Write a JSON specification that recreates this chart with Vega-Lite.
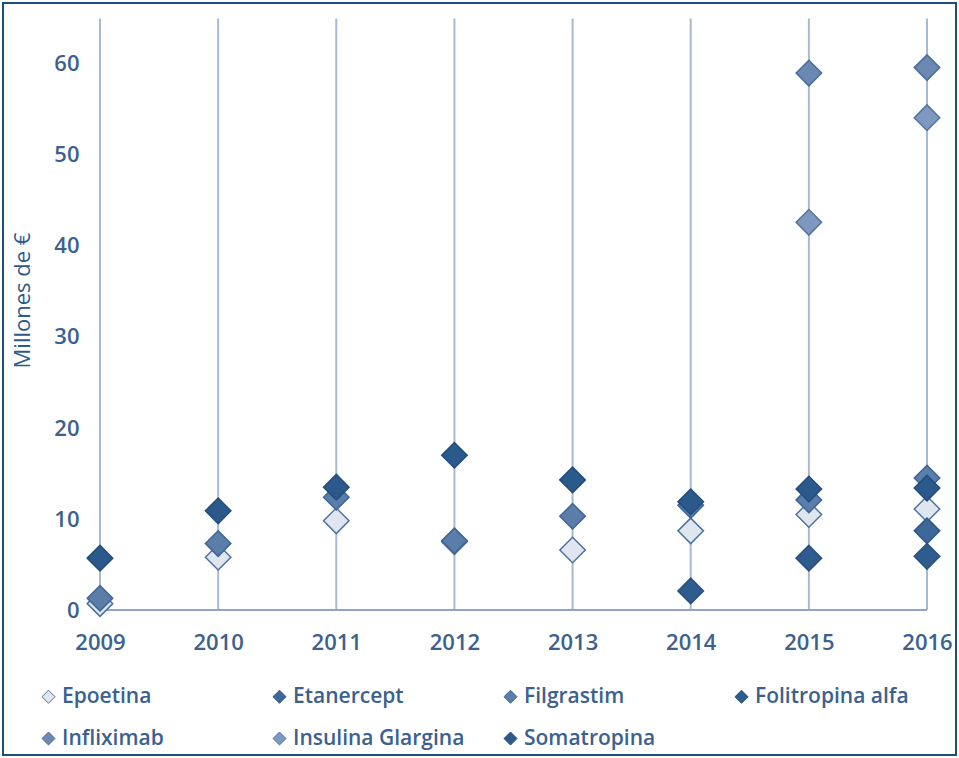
{
  "$schema": "https://vega.github.io/schema/vega-lite/v6.json",
  "width": 953,
  "height": 752,
  "padding": 3,
  "autosize": {"type": "none"},
  "background": "white",
  "config": {
    "view": {"stroke": "#1f4e79", "strokeWidth": 2},
    "font": "Open Sans",
    "text": {"font": "Open Sans"}
  },
  "data": {
    "values": [
      {"year": 2009, "series": "Epoetina", "value": 0.7},
      {"year": 2010, "series": "Epoetina", "value": 5.8},
      {"year": 2011, "series": "Epoetina", "value": 9.8},
      {"year": 2012, "series": "Epoetina", "value": 7.5},
      {"year": 2013, "series": "Epoetina", "value": 6.6},
      {"year": 2014, "series": "Epoetina", "value": 8.7},
      {"year": 2015, "series": "Epoetina", "value": 10.5},
      {"year": 2016, "series": "Epoetina", "value": 11.1},
      {"year": 2016, "series": "Etanercept", "value": 8.7},
      {"year": 2009, "series": "Filgrastim", "value": 1.3},
      {"year": 2010, "series": "Filgrastim", "value": 7.3},
      {"year": 2011, "series": "Filgrastim", "value": 12.4},
      {"year": 2012, "series": "Filgrastim", "value": 7.6},
      {"year": 2013, "series": "Filgrastim", "value": 10.3},
      {"year": 2014, "series": "Filgrastim", "value": 11.5},
      {"year": 2015, "series": "Filgrastim", "value": 12.1},
      {"year": 2016, "series": "Filgrastim", "value": 14.5},
      {"year": 2014, "series": "Folitropina alfa", "value": 2.1},
      {"year": 2015, "series": "Folitropina alfa", "value": 5.7},
      {"year": 2016, "series": "Folitropina alfa", "value": 5.9},
      {"year": 2015, "series": "Infliximab", "value": 59.0},
      {"year": 2016, "series": "Infliximab", "value": 59.6},
      {"year": 2015, "series": "Insulina Glargina", "value": 42.6},
      {"year": 2016, "series": "Insulina Glargina", "value": 54.1},
      {"year": 2009, "series": "Somatropina", "value": 5.7},
      {"year": 2010, "series": "Somatropina", "value": 10.9},
      {"year": 2011, "series": "Somatropina", "value": 13.5},
      {"year": 2012, "series": "Somatropina", "value": 17.0},
      {"year": 2013, "series": "Somatropina", "value": 14.3},
      {"year": 2014, "series": "Somatropina", "value": 11.9},
      {"year": 2015, "series": "Somatropina", "value": 13.3},
      {"year": 2016, "series": "Somatropina", "value": 13.4}
    ]
  },
  "layer": [
    {
      "transform": [{"aggregate": [{"op": "count", "as": "n"}], "groupby": ["year"]}],
      "mark": {"type": "rule", "color": "#a9b9d4", "strokeWidth": 2},
      "encoding": {
        "x": {"field": "year", "type": "quantitative"},
        "y": {"datum": 0, "type": "quantitative"},
        "y2": {"datum": 65}
      }
    },
    {
      "transform": [{"aggregate": [{"op": "count", "as": "n"}]}],
      "mark": {"type": "rule", "color": "#8fa4c6", "strokeWidth": 2},
      "encoding": {
        "x": {"datum": 2009, "type": "quantitative"},
        "x2": {"datum": 2016},
        "y": {"datum": 0, "type": "quantitative"}
      }
    },
    {
      "mark": {"type": "point", "shape": "diamond", "filled": true, "size": 650, "opacity": 1, "strokeWidth": 1.5},
      "encoding": {
        "x": {
          "field": "year",
          "type": "quantitative",
          "scale": {"domain": [2008.179, 2016.2455], "nice": false, "zero": false},
          "axis": {
            "orient": "bottom",
            "offset": -145,
            "values": [2009, 2010, 2011, 2012, 2013, 2014, 2015, 2016],
            "format": "d",
            "title": null,
            "domain": false,
            "ticks": false,
            "grid": false,
            "labelPadding": 22,
            "labelFontSize": 22,
            "labelFontWeight": 600,
            "labelFont": "Open Sans",
            "labelColor": "#3b618f",
            "labelFlush": false
          }
        },
        "y": {
          "field": "value",
          "type": "quantitative",
          "scale": {"domain": [-15.93, 66.7], "nice": false, "zero": false},
          "axis": {
            "orient": "left",
            "offset": -97,
            "values": [0, 10, 20, 30, 40, 50, 60],
            "title": "Millones de €",
            "titleFont": "Open Sans",
            "titleFontSize": 22,
            "titleFontWeight": "normal",
            "titleColor": "#2e5a8a",
            "titleX": -78,
            "titleY": 297,
            "titleAngle": -90,
            "titleBaseline": "middle",
            "domain": false,
            "ticks": false,
            "grid": false,
            "labelPadding": 21,
            "labelFontSize": 22,
            "labelFontWeight": 600,
            "labelFont": "Open Sans",
            "labelColor": "#3b618f",
            "labelFlush": false
          }
        },
        "fill": {
          "field": "series",
          "type": "nominal",
          "scale": {
            "domain": ["Epoetina", "Etanercept", "Filgrastim", "Folitropina alfa", "Infliximab", "Insulina Glargina", "Somatropina"],
            "range": ["#dfe6f0", "#3d6796", "#5a7daa", "#2f5c8e", "#6b88b3", "#7f98c0", "#2b598b"]
          },
          "legend": {
            "orient": "none",
            "legendX": 35,
            "legendY": 683,
            "direction": "horizontal",
            "columns": 4,
            "gridAlign": "all",
            "columnPadding": 35,
            "rowPadding": 20,
            "title": null,
            "symbolType": "diamond",
            "symbolSize": 170,
            "symbolStrokeWidth": 1,
            "labelFont": "Open Sans",
            "labelFontSize": 21,
            "labelFontWeight": 600,
            "labelColor": "#3b618f",
            "labelOffset": 3,
            "labelLimit": 400,
            "padding": 0
          }
        },
        "stroke": {
          "field": "series",
          "type": "nominal",
          "scale": {
            "domain": ["Epoetina", "Etanercept", "Filgrastim", "Folitropina alfa", "Infliximab", "Insulina Glargina", "Somatropina"],
            "range": ["#4d72a0", "#30598a", "#3f6594", "#27507e", "#4a6d9b", "#53739f", "#224c7b"]
          },
          "legend": null
        }
      }
    }
  ]
}
